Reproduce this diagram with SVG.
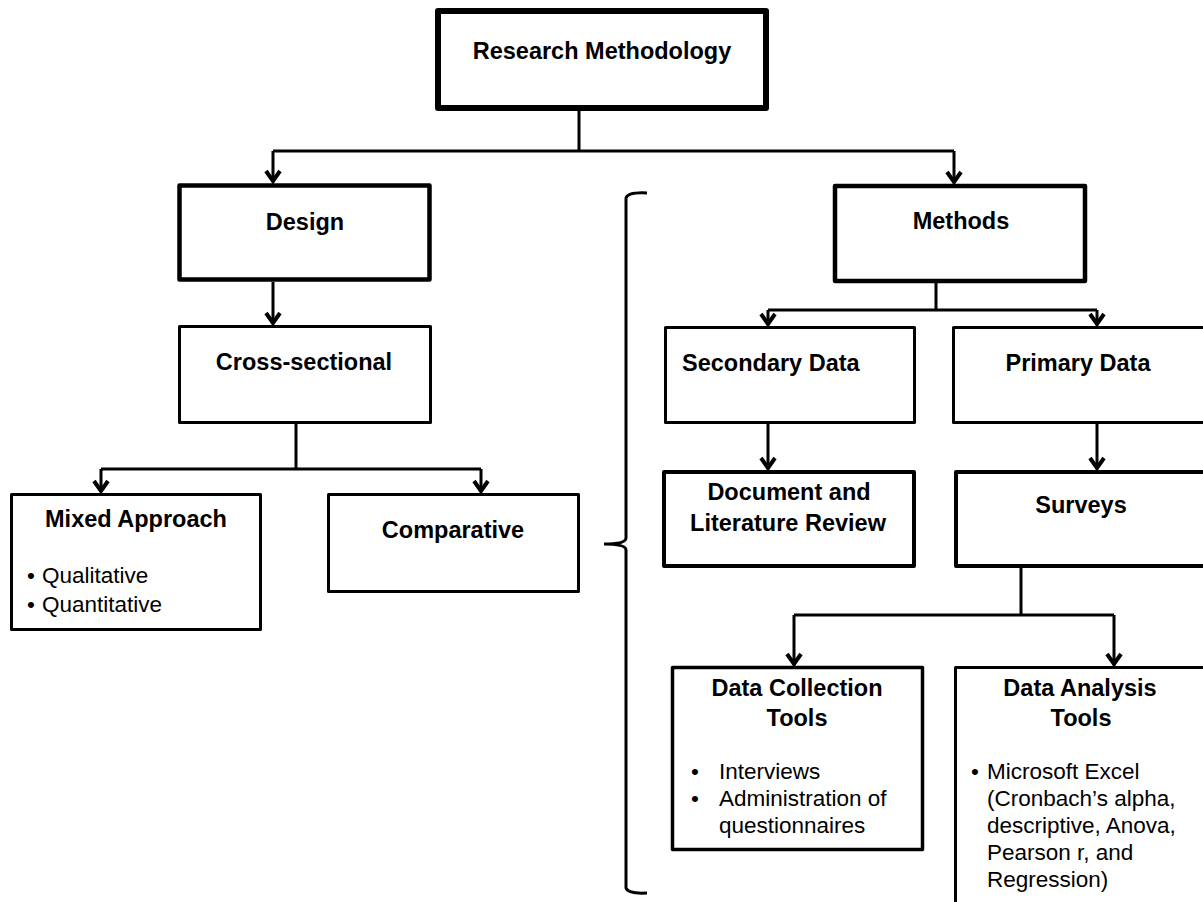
<svg xmlns="http://www.w3.org/2000/svg" width="1203" height="902" viewBox="0 0 1203 902">
<style>
.box{fill:#fff;stroke:#000;stroke-linejoin:round}
.h{font-family:"Liberation Sans",Arial,sans-serif;font-weight:bold;font-size:23.5px;fill:#000;text-anchor:middle}
.hs{font-family:"Liberation Sans",Arial,sans-serif;font-weight:bold;font-size:23.5px;fill:#000;text-anchor:start}
.t{font-family:"Liberation Sans",Arial,sans-serif;font-size:22.5px;fill:#000}
.c{fill:none;stroke:#000;stroke-width:3}
</style>
<defs>
<marker id="arr" viewBox="-14 -10 16 20" refX="0" refY="0" markerWidth="16" markerHeight="20" orient="auto" markerUnits="userSpaceOnUse">
<path d="M-11,-7 L-1,0 L-11,7" fill="none" stroke="#000" stroke-width="4" stroke-linejoin="miter"/>
</marker>
</defs>
<rect width="1203" height="902" fill="#fff"/>
<g id="connectors">
<path class="c" d="M579,111 V151 M273,151 H954"/>
<path class="c" d="M273,151 V182" marker-end="url(#arr)"/>
<path class="c" d="M954,151 V183" marker-end="url(#arr)"/>
<path class="c" d="M273,282 V324" marker-end="url(#arr)"/>
<path class="c" d="M296,424 V469 M101,469 H481"/>
<path class="c" d="M101,469 V492" marker-end="url(#arr)"/>
<path class="c" d="M481,469 V492" marker-end="url(#arr)"/>
<path class="c" d="M936,283 V310 M768,310 H1097"/>
<path class="c" d="M768,310 V325" marker-end="url(#arr)"/>
<path class="c" d="M1097,310 V325" marker-end="url(#arr)"/>
<path class="c" d="M768,424 V469" marker-end="url(#arr)"/>
<path class="c" d="M1097,424 V469" marker-end="url(#arr)"/>
<path class="c" d="M1021,568 V615 M794,615 H1114"/>
<path class="c" d="M794,615 V665" marker-end="url(#arr)"/>
<path class="c" d="M1114,615 V665" marker-end="url(#arr)"/>
</g>
<g id="bracket">
<path class="c" d="M647,193 Q628,192 626,198 L626,538 Q626,544 604,544 Q626,544 626,550 L626,888 Q628,894 647,893"/>
</g>
<g id="research-methodology">
<rect class="box" x="438" y="11" width="328" height="97" stroke-width="6"/>
<text class="h" x="602" y="59" font-size="25.5">Research Methodology</text>
</g>
<g id="design">
<rect class="box" x="179.5" y="185.5" width="250" height="94" stroke-width="4.5"/>
<text class="h" x="305" y="230">Design</text>
</g>
<g id="cross-sectional">
<rect class="box" x="179.5" y="326.5" width="251" height="96" stroke-width="3"/>
<text class="h" x="304" y="370">Cross-sectional</text>
</g>
<g id="mixed-approach">
<rect class="box" x="11.5" y="494.5" width="249" height="135" stroke-width="3"/>
<text class="h" x="136" y="527">Mixed Approach</text>
<text class="t" x="27" y="583">•</text>
<text class="t" x="42" y="583">Qualitative</text>
<text class="t" x="27" y="612">•</text>
<text class="t" x="42" y="612">Quantitative</text>
</g>
<g id="comparative">
<rect class="box" x="328.5" y="494.5" width="250" height="97" stroke-width="3"/>
<text class="h" x="453" y="538">Comparative</text>
</g>
<g id="methods">
<rect class="box" x="835" y="186" width="250" height="95" stroke-width="4.5"/>
<text class="h" x="961" y="229">Methods</text>
</g>
<g id="secondary-data">
<rect class="box" x="665.5" y="327.5" width="249" height="95" stroke-width="3"/>
<text class="hs" x="682" y="371">Secondary Data</text>
</g>
<g id="primary-data">
<rect class="box" x="953.5" y="327.5" width="260" height="95" stroke-width="3"/>
<text class="h" x="1078" y="371">Primary Data</text>
</g>
<g id="document-review">
<rect class="box" x="664" y="472" width="250" height="94" stroke-width="4"/>
<text class="h" x="789" y="500">Document and</text>
<text class="h" x="788" y="531">Literature Review</text>
</g>
<g id="surveys">
<rect class="box" x="956" y="472" width="260" height="94" stroke-width="4"/>
<text class="h" x="1081" y="513">Surveys</text>
</g>
<g id="data-collection-tools">
<rect class="box" x="672.5" y="667.5" width="250" height="182" stroke-width="3.5"/>
<text class="h" x="797" y="696">Data Collection</text>
<text class="h" x="797" y="726">Tools</text>
<text class="t" x="691" y="779">•</text>
<text class="t" x="719" y="779">Interviews</text>
<text class="t" x="691" y="806">•</text>
<text class="t" x="719" y="806">Administration of</text>
<text class="t" x="719" y="833">questionnaires</text>
</g>
<g id="data-analysis-tools">
<rect class="box" x="955.5" y="667.5" width="260" height="260" stroke-width="3"/>
<text class="h" x="1080" y="696">Data Analysis</text>
<text class="h" x="1081" y="726">Tools</text>
<text class="t" x="971" y="779">•</text>
<text class="t" x="987" y="779">Microsoft Excel</text>
<text class="t" x="987" y="806">(Cronbach’s alpha,</text>
<text class="t" x="987" y="833">descriptive, Anova,</text>
<text class="t" x="987" y="860">Pearson r, and</text>
<text class="t" x="987" y="887">Regression)</text>
</g>
</svg>
